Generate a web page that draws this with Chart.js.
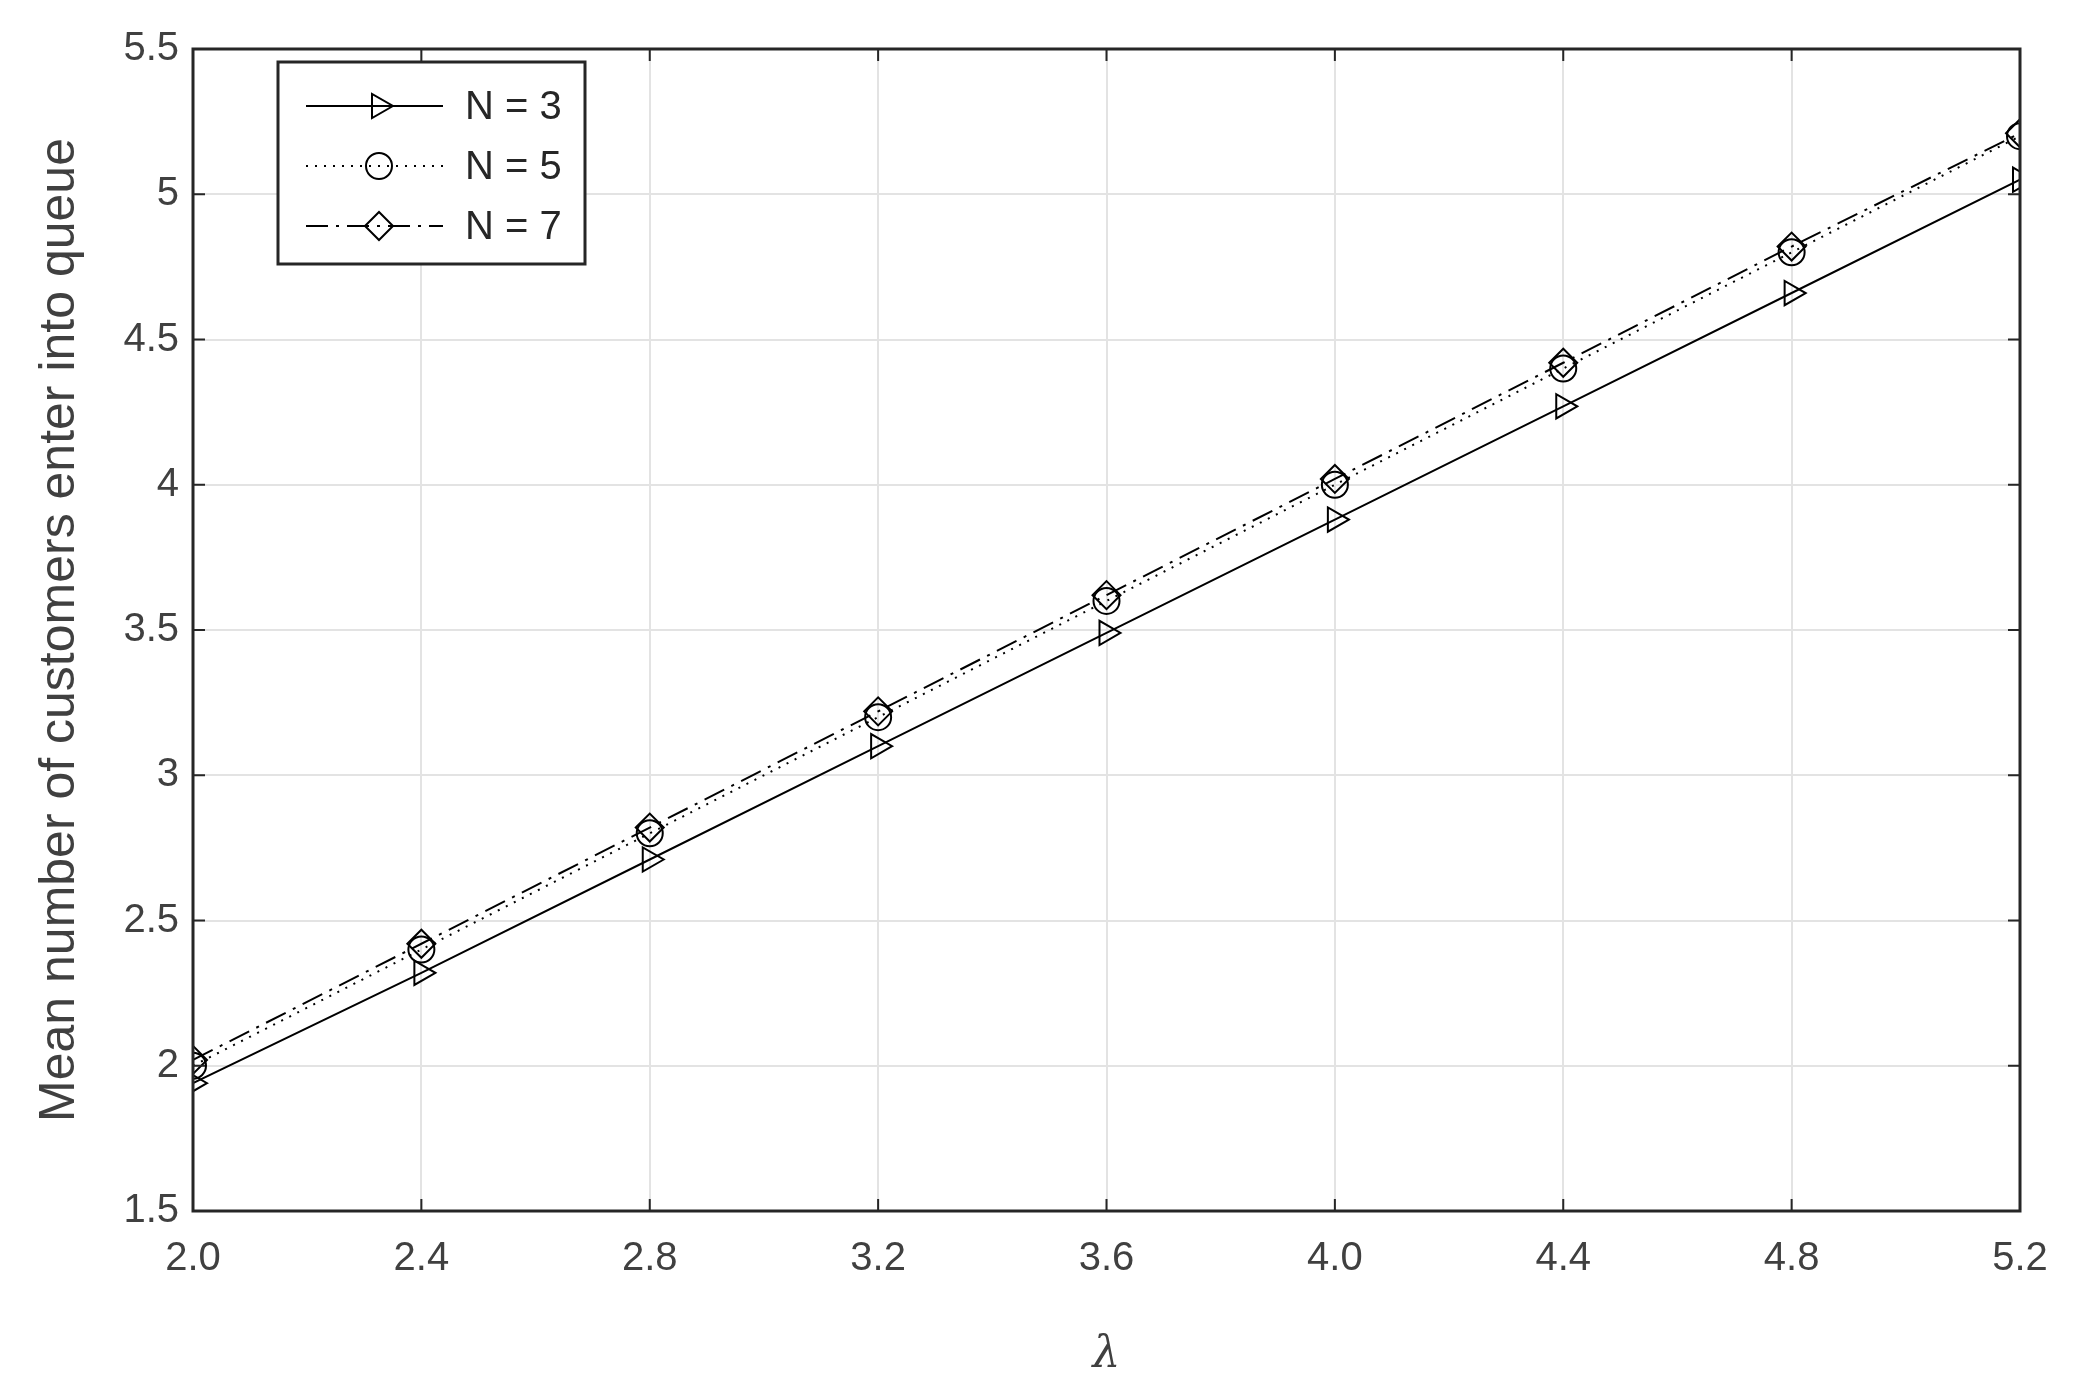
<!DOCTYPE html>
<html><head><meta charset="utf-8">
<script src="https://cdn.jsdelivr.net/npm/chart.js@4"></script>
<style>html,body{margin:0;padding:0;background:#fff}#w{width:2084px;height:1386px}</style>
</head><body><div id="w"><canvas id="c"></canvas></div>
<script>
const lambdas=[2.0,2.4,2.8,3.2,3.6,4.0,4.4,4.8,5.2];
const n3=[1.94,2.32,2.71,3.10,3.49,3.88,4.27,4.66,5.05];
const n5=[2.00,2.40,2.80,3.20,3.60,4.00,4.40,4.80,5.20];
const n7=[2.02,2.42,2.82,3.22,3.62,4.02,4.42,4.82,5.21];
const labels=['N = 3','N = 5','N = 7'];
const F='"Liberation Sans", Arial, sans-serif';
const pts=a=>lambdas.map((x,i)=>({x,y:a[i]}));
const styles=[
 {dash:[],ps:'triangle',rot:90,r:14},
 {dash:[2,7],ps:'circle',rot:0,r:13},
 {dash:[22,8,3,8],ps:'rectRot',rot:0,r:14}
];
const sets=[n3,n5,n7].map((a,i)=>({label:labels[i],data:pts(a),borderColor:'#000',borderWidth:2,
 borderDash:styles[i].dash,pointStyle:styles[i].ps,rotation:styles[i].rot,pointRadius:styles[i].r,
 pointBorderColor:'#000',pointBackgroundColor:'rgba(0,0,0,0)',pointBorderWidth:2,fill:false,tension:0}));
const frame={id:'frame',afterDatasetsDraw(ch){
 const {ctx,chartArea:a,scales:{x,y}}=ch;ctx.save();
 ctx.strokeStyle='#262626';ctx.lineWidth=3;ctx.setLineDash([]);
 ctx.strokeRect(a.left,a.top,a.right-a.left,a.bottom-a.top);
 ctx.lineWidth=2;
 x.ticks.forEach(t=>{const px=x.getPixelForValue(t.value);
  ctx.beginPath();ctx.moveTo(px,a.bottom);ctx.lineTo(px,a.bottom-12);ctx.moveTo(px,a.top);ctx.lineTo(px,a.top+12);ctx.stroke();});
 y.ticks.forEach(t=>{const py=y.getPixelForValue(t.value);
  ctx.beginPath();ctx.moveTo(a.left,py);ctx.lineTo(a.left+12,py);ctx.moveTo(a.right,py);ctx.lineTo(a.right-12,py);ctx.stroke();});
 // legend
 const bx=278,by=62,bw=307,bh=202;
 ctx.fillStyle='#fff';ctx.fillRect(bx,by,bw,bh);
 ctx.lineWidth=3;ctx.strokeStyle='#262626';ctx.strokeRect(bx,by,bw,bh);
 ctx.font='40px '+F;ctx.textBaseline='middle';
 labels.forEach((l,i)=>{const yy=106+i*60;const s=styles[i];
  ctx.strokeStyle='#000';ctx.lineWidth=2;ctx.setLineDash(s.dash);
  ctx.beginPath();ctx.moveTo(306,yy);ctx.lineTo(443,yy);ctx.stroke();ctx.setLineDash([]);
  ctx.fillStyle='rgba(0,0,0,0)';
  Chart.helpers.drawPoint(ctx,{pointStyle:s.ps,rotation:s.rot,radius:s.r,borderWidth:2},379,yy);
  ctx.fillStyle='#262626';ctx.fillText(l,465,yy+2);});
 ctx.restore();}};
new Chart(document.getElementById('c'),{type:'line',data:{datasets:sets},
 options:{responsive:true,maintainAspectRatio:false,animation:false,devicePixelRatio:1,
  layout:{padding:{left:0,top:49,right:64,bottom:0}},
  plugins:{legend:{display:false},tooltip:{enabled:false}},
  scales:{
   x:{type:'linear',min:2,max:5.2,afterBuildTicks(s){s.ticks=lambdas.map(v=>({value:v}));},
    ticks:{callback:v=>v.toFixed(1),font:{size:40,family:F},color:'#404040',padding:24,maxRotation:0},
    grid:{color:'#e3e3e3',lineWidth:2,drawTicks:false},border:{display:false},
    title:{display:true,text:'λ',font:{size:44,family:'"DejaVu Serif", serif',style:'italic'},color:'#404040',padding:{top:10}},
    afterFit(s){s.height=175;}},
   y:{min:1.5,max:5.5,ticks:{stepSize:0.5,callback:v=>String(v),font:{size:40,family:F},color:'#404040',padding:14},
    grid:{color:'#e3e3e3',lineWidth:2,drawTicks:false},border:{display:false},
    title:{display:true,text:'Mean number of customers enter into queue',font:{size:50,family:F},color:'#404040',padding:{top:30,bottom:8}},
    afterFit(s){s.width=193;}}
  }},plugins:[frame]});
</script></body></html>
